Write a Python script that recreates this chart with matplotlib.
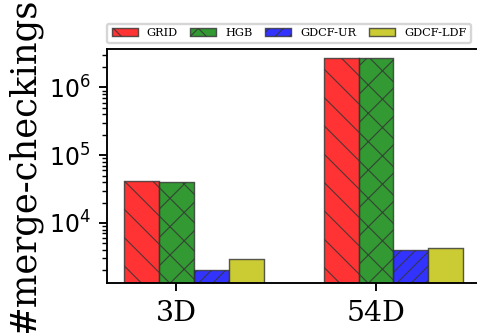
import numpy as np
import matplotlib
matplotlib.use("Agg")
import matplotlib.pyplot as plt

# values (log scale)
datasets = ["3D", "54D"]
methods = ["GRID", "HGB", "GDCF-UR", "GDCF-LDF"]
grid_vals = [4.1e4, 2.7e6]
hgb_vals = [4.0e4, 2.7e6]
ur_vals = [2.0e3, 4.0e3]
ldf_vals = [2.95e3, 4.3e3]

colors = ["r", "g", "b", "y"]
hatches = ["\\\\", "xx", "////", ""]

plt.rcParams["hatch.linewidth"] = 0.5

fig = plt.figure(figsize=(478 / 170, 333 / 170), dpi=170)
ax = fig.add_axes([0.2238, 0.1502, 0.781, 0.7027])

x = np.arange(len(datasets))
width = 0.175
series = [grid_vals, hgb_vals, ur_vals, ldf_vals]
for i, (name, vals) in enumerate(zip(methods, series)):
    ax.bar(x + (i - 1) * width, vals, width, label=name, color=colors[i],
           alpha=0.8, edgecolor="#333333", linewidth=0.6, hatch=hatches[i])

ax.set_yscale("log")
ax.set_ylim(1300, 3.7e6)
ax.set_xticks(x)
ax.set_xticklabels(datasets, family="DejaVu Serif", fontsize=12)
ax.tick_params(axis="y", labelsize=10)
ax.set_ylabel("#merge-checkings", family="DejaVu Serif", fontsize=15, labelpad=3)

ax.legend(loc="lower left", bbox_to_anchor=(0, 1.026), ncol=4,
          prop={"family": "DejaVu Serif", "size": 4.8}, borderaxespad=0,
          handlelength=2.3, columnspacing=1.1)

fig.savefig("out.png", dpi=170)
